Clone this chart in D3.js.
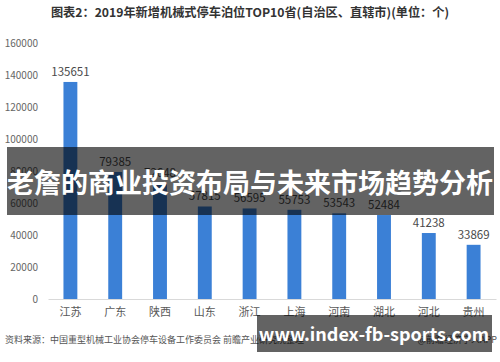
<!DOCTYPE html>
<html>
<head>
<meta charset="utf-8">
<script src="https://cdn.jsdelivr.net/npm/d3@7"></script>
<style>
  body { margin: 0; background: #fff; }
  svg text { font-family: "Microsoft YaHei", "Noto Sans CJK SC", sans-serif; }
</style>
</head>
<body>
<div id="chart"></div>
<script>
const provinces = ["江苏", "广东", "陕西", "山东", "浙江", "上海", "河南", "湖北", "河北", "贵州"];
const spaces = [135651, 79385, 72648, 57815, 56595, 55753, 53543, 52484, 41238, 33869];
const yTicks = [0, 20000, 40000, 60000, 80000, 100000, 120000, 140000, 160000];

const chartTitle = "图表2：2019年新增机械式停车泊位TOP10省(自治区、直辖市)(单位：个)";
const sourceNote = "资料来源：中国重型机械工业协会停车设备工作委员会 前瞻产业研究院整理";
const appNote = "@前瞻经济学人APP";
const bannerText = "老詹的商业投资布局与未来市场趋势分析";
const siteText = "www.index-fb-sports.com";

const W = 500, H = 362;
const margin = { top: 43, right: 4, bottom: 63, left: 48 };

const svg = d3.select("#chart").append("svg")
    .attr("width", W)
    .attr("height", H);

const x = d3.scaleBand()
    .domain(provinces)
    .range([margin.left, W - margin.right])
    .paddingInner(0.69)
    .paddingOuter(0.345);

const y = d3.scaleLinear()
    .domain([0, 160000])
    .range([H - margin.bottom, margin.top]);

// title
svg.append("text")
    .attr("x", 250)
    .attr("y", 17)
    .attr("text-anchor", "middle")
    .attr("font-size", 12.2)
    .attr("font-weight", "bold")
    .attr("fill", "#333")
    .text(chartTitle);

// y axis labels
const yAxis = svg.append("g")
    .attr("transform", `translate(${margin.left - 10},0)`)
    .call(d3.axisLeft(y).tickValues(yTicks).tickSize(0).tickPadding(0).tickFormat(d3.format("d")));
yAxis.select(".domain").remove();
yAxis.selectAll("text")
    .attr("font-size", 10)
    .attr("fill", "#666");

// x axis
const xAxis = svg.append("g")
    .attr("transform", `translate(0,${y(0)})`)
    .call(d3.axisBottom(x).tickSize(0).tickPadding(9));
xAxis.select(".domain").attr("stroke", "#d9d9d9");
xAxis.selectAll("text")
    .attr("font-size", 11)
    .attr("fill", "#595959");

// bars
svg.selectAll(".bar")
    .data(provinces)
    .enter()
    .append("rect")
    .attr("class", "bar")
    .attr("x", d => x(d))
    .attr("width", x.bandwidth())
    .attr("y", (d, i) => y(spaces[i]))
    .attr("height", (d, i) => y(0) - y(spaces[i]))
    .attr("fill", "#3b80d6");

// value labels
svg.selectAll(".val")
    .data(provinces)
    .enter()
    .append("text")
    .attr("class", "val")
    .attr("x", d => x(d) + x.bandwidth() / 2)
    .attr("y", (d, i) => y(spaces[i]) - 6)
    .attr("text-anchor", "middle")
    .attr("font-size", 11.5)
    .attr("fill", "#4a4a4a")
    .text((d, i) => spaces[i]);

// footer
svg.append("text")
    .attr("x", 5)
    .attr("y", 343)
    .attr("font-size", 9)
    .attr("fill", "#555")
    .text(sourceNote);

svg.append("text")
    .attr("x", 497)
    .attr("y", 343)
    .attr("text-anchor", "end")
    .attr("font-size", 9)
    .attr("fill", "#555")
    .text(appNote);

// overlay banners
svg.append("rect")
    .attr("x", 7).attr("y", 147)
    .attr("width", 487).attr("height", 68)
    .attr("fill", "rgba(0,0,0,0.61)");
svg.append("text")
    .attr("x", 250)
    .attr("y", 193)
    .attr("text-anchor", "middle")
    .attr("font-size", 27)
    .attr("font-weight", "bold")
    .attr("fill", "#fff")
    .text(bannerText);

svg.append("rect")
    .attr("x", 257).attr("y", 315)
    .attr("width", 235).attr("height", 37)
    .attr("fill", "rgba(0,0,0,0.61)");
svg.append("text")
    .attr("x", 374)
    .attr("y", 341)
    .attr("text-anchor", "middle")
    .attr("font-size", 18)
    .attr("font-weight", "bold")
    .attr("font-family", "'Open Sans', sans-serif")
    .attr("fill", "#fff")
    .text(siteText);
</script>
</body>
</html>
